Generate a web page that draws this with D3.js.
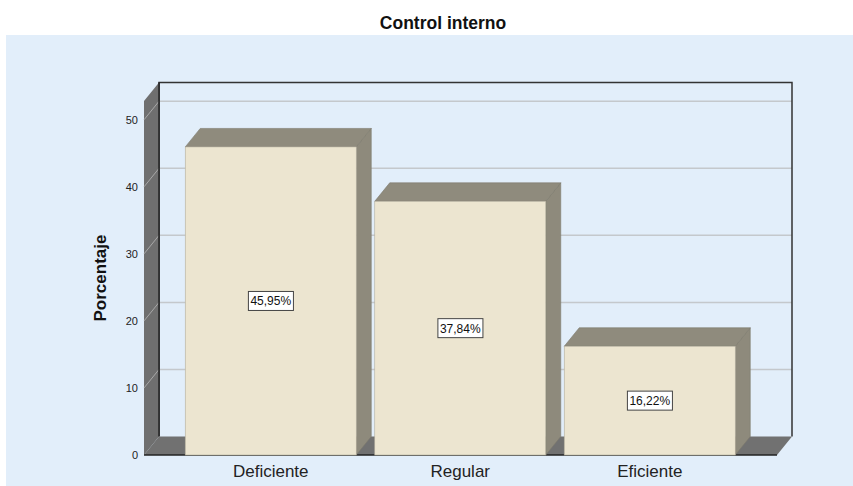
<!DOCTYPE html>
<html>
<head>
<meta charset="utf-8">
<script src="https://cdn.jsdelivr.net/npm/d3@7"></script>
<style>
body{margin:0;background:#fff;}
text{font-family:Arial,"Liberation Sans",sans-serif;}
</style>
</head>
<body>
<div id="chart"></div>
<script>
let categories=["Deficiente","Regular","Eficiente"];
let values=[45.95,37.84,16.22];
let valueLabels=["45,95%","37,84%","16,22%"];
let yTicks=[0,10,20,30,40,50];
let yMax=52.8;

let width=853, height=486;
let dx=15, dy=-18.5; // depth of the 3d box
let pLeft=144, pRight=777, pBottom=455, pTop=101;

let svg=d3.select("#chart").append("svg")
  .attr("width",width).attr("height",height);

svg.append("rect")
  .attr("x",6).attr("y",35).attr("width",width-6).attr("height",height-35)
  .attr("fill","#e2eefa");

svg.append("text").text("Control interno")
  .attr("x",443).attr("y",29)
  .attr("text-anchor","middle")
  .attr("font-size",17.5).attr("font-weight","bold").attr("fill","#111");

let y=d3.scaleLinear().domain([0,yMax]).range([pBottom,pTop]);
let x=d3.scaleBand().domain(categories).range([176,744.5])
  .paddingInner(0.0976).paddingOuter(0.0488);

// back wall gridlines
svg.selectAll(".grid").data(yTicks.filter(d=>d>0)).enter().append("line")
  .attr("x1",pLeft+dx).attr("x2",pRight+dx)
  .attr("y1",d=>y(d)+dy).attr("y2",d=>y(d)+dy)
  .attr("stroke","#c4c8cc").attr("stroke-width",1.5);

// back wall outline
svg.append("path")
  .attr("d","M"+(pLeft+dx)+","+(pBottom+dy)+"V"+(pTop+dy)+"H"+(pRight+dx)+"V"+(pBottom+dy))
  .attr("fill","none").attr("stroke","#333").attr("stroke-width",1.5);

// left wall
svg.append("path")
  .attr("d","M"+pLeft+","+pTop+"L"+(pLeft+dx)+","+(pTop+dy)+"L"+(pLeft+dx)+","+(pBottom+dy)+"L"+pLeft+","+pBottom+"Z")
  .attr("fill","#6f6f6f");
svg.selectAll(".wallgrid").data(yTicks.filter(d=>d>0)).enter().append("line")
  .attr("x1",pLeft).attr("x2",pLeft+dx)
  .attr("y1",d=>y(d)).attr("y2",d=>y(d)+dy)
  .attr("stroke","#a8a8a8").attr("stroke-width",1);
svg.append("line")
  .attr("x1",pLeft+dx).attr("x2",pLeft+dx).attr("y1",pTop+dy).attr("y2",pBottom+dy)
  .attr("stroke","#222").attr("stroke-width",1.5);

// floor
svg.append("path")
  .attr("d","M"+pLeft+","+pBottom+"L"+(pLeft+dx)+","+(pBottom+dy)+"L"+(pRight+dx)+","+(pBottom+dy)+"L"+pRight+","+pBottom+"Z")
  .attr("fill","#717171");
svg.append("line")
  .attr("x1",pLeft).attr("x2",pRight).attr("y1",pBottom).attr("y2",pBottom)
  .attr("stroke","#222").attr("stroke-width",1.5);

// y tick labels
svg.selectAll(".ytick").data(yTicks).enter().append("text")
  .text(d=>d)
  .attr("x",pLeft-6).attr("y",d=>y(d)+4)
  .attr("text-anchor","end").attr("font-size",11).attr("fill","#222");

svg.append("text").text("Porcentaje")
  .attr("transform","translate(105.5,278) rotate(-90)")
  .attr("text-anchor","middle")
  .attr("font-size",17).attr("font-weight","bold").attr("fill","#111");

// bars
let bars=svg.selectAll(".bar").data(values).enter().append("g");
bars.append("path")
  .attr("d",(d,i)=>{
    let x0=x(categories[i])+x.bandwidth(), y0=y(d);
    return "M"+x0+","+y0+"L"+(x0+dx)+","+(y0+dy)+"L"+(x0+dx)+","+(pBottom+dy)+"L"+x0+","+pBottom+"Z";
  })
  .attr("fill","#8e8a7c").attr("stroke","#7c786b").attr("stroke-width",0.6);
bars.append("path")
  .attr("d",(d,i)=>{
    let x0=x(categories[i]), x1=x0+x.bandwidth(), y0=y(d);
    return "M"+x0+","+y0+"L"+(x0+dx)+","+(y0+dy)+"L"+(x1+dx)+","+(y0+dy)+"L"+x1+","+y0+"Z";
  })
  .attr("fill","#8f8b7d").attr("stroke","#7c786b").attr("stroke-width",0.6);
bars.append("rect")
  .attr("x",(d,i)=>x(categories[i]))
  .attr("y",d=>y(d))
  .attr("width",x.bandwidth())
  .attr("height",d=>pBottom-y(d))
  .attr("fill","#ece5d0").attr("stroke","#b3ad9c").attr("stroke-width",0.6);

// value labels
bars.each(function(d,i){
  let g=d3.select(this);
  let cx=x(categories[i])+x.bandwidth()/2, cy=(y(d)+pBottom)/2;
  let t=g.append("text").text(valueLabels[i])
    .attr("x",cx).attr("y",cy+4.5)
    .attr("text-anchor","middle").attr("font-size",12).attr("fill","#111");
  let bb=t.node().getBBox();
  g.insert("rect","text")
    .attr("x",bb.x-2).attr("y",cy-9.5).attr("width",bb.width+4).attr("height",19)
    .attr("fill","#fff").attr("stroke","#444").attr("stroke-width",1);
});

// x labels
svg.selectAll(".xlab").data(categories).enter().append("text")
  .text(d=>d)
  .attr("x",d=>x(d)+x.bandwidth()/2).attr("y",477)
  .attr("text-anchor","middle").attr("font-size",17).attr("fill","#222");
</script>
</body>
</html>
